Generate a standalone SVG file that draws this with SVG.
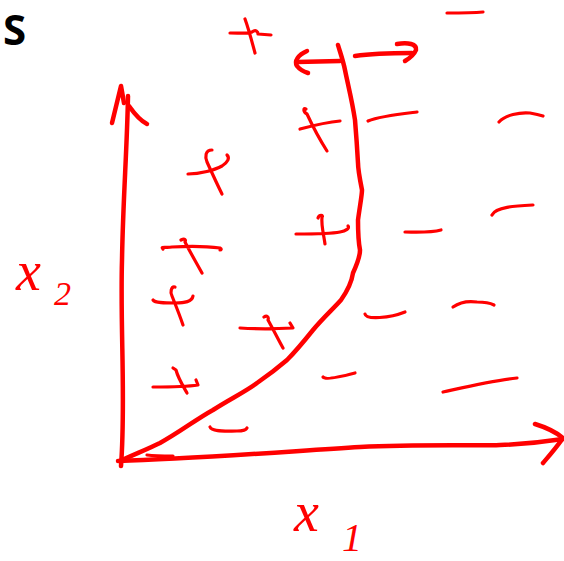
<svg xmlns="http://www.w3.org/2000/svg" width="564" height="561" viewBox="0 0 564 561">
<style>
.ink{fill:none;stroke:#ff0000;stroke-linecap:round;stroke-linejoin:round}
.thick{stroke-width:4.5}
.mark{stroke-width:3.2}
.lbl{fill:#ff0000;font-family:"Liberation Serif",serif;font-style:italic}
</style>
<rect width="564" height="561" fill="#ffffff"/>
<text x="3" y="45" font-family="Open Sans, sans-serif" font-weight="bold" font-size="42" fill="#000000">S</text>
<g id="axes" class="ink thick">
  <path d="M128,96 C127,150 123,200 122,260 C120,330 126,400 121,466"/>
  <path d="M112,123 L121,86 L124,103 M129,106 C136,116 141,121 147,124"/>
  <path d="M118,461 C190,459 280,452 360,447 C420,444 480,446 500,445 C530,444 550,441 563,439"/>
  <path d="M535,424 C548,428 557,433 563,438 C556,448 549,456 543,463"/>
</g>
<g id="boundary" class="ink thick">
  <path d="M120,461 C135,454 148,449 160,443 C180,432 195,420 213,410 C230,399 245,392 257,383 C270,374 280,366 287,360 C297,350 305,340 313,330 C323,318 333,309 341,300 C348,290 352,280 353,273 C358,262 360,256 360,250 C358,240 358,230 358,220 C360,205 362,195 362,190 C360,180 358,170 358,163 C357,145 356,132 355,120 C352,100 348,85 345,70 C343,60 340,52 338,45"/>
</g>
<g id="arrows-top" class="ink thick">
  <path d="M340,61 L297,62"/>
  <path d="M307,51 C298,55 294,61 297,66 C300,70 305,72 308,73"/>
  <path d="M355,56 C375,53 395,53 412,53"/>
  <path d="M397,44 C408,42 417,44 416,50 C414,55 410,58 405,61"/>
</g>
<g id="plus-markers" class="ink mark">
  <path d="M230,33 C240,33 248,34 252,32 C256,29 258,32 258,34 L271,35 M245,19 C249,30 252,42 255,53"/>
  <path d="M300,129 C315,125 328,122 340,121 M306,109 C303,107 303,112 307,114 C313,127 320,140 327,151"/>
  <path d="M188,174 C200,174 215,170 222,166 C228,162 230,158 227,155 M212,150 C205,150 205,157 207,162 C212,173 217,184 222,194"/>
  <path d="M296,234 C315,234 330,234 340,232 C346,231 350,228 348,226 M318,218 C319,214 324,215 322,217 C321,225 324,236 325,244"/>
  <path d="M163,249 C160,246 166,248 172,247 C190,246 205,246 220,248 C222,249 221,250 220,250 M181,240 C185,238 186,240 185,242 C190,252 196,262 202,273"/>
  <path d="M153,300 C155,303 165,303 175,303 C185,303 192,302 193,296 M175,287 C171,286 170,293 172,296 C176,306 180,316 183,325"/>
  <path d="M240,328 C255,329 275,329 293,328 L290,323 M264,317 C267,315 269,317 268,320 C273,329 278,339 283,348"/>
  <path d="M153,387 C168,387 185,387 198,385 L196,380 M173,368 L176,370 C178,378 183,386 187,393"/>
</g>
<g id="minus-markers" class="ink mark">
  <path d="M447,13 C460,13 472,13 483,12"/>
  <path d="M368,121 C380,116 400,114 417,112"/>
  <path d="M499,122 C505,115 520,112 530,113 C536,114 540,115 543,116"/>
  <path d="M492,215 C496,207 515,206 533,205"/>
  <path d="M405,232 C415,232 430,233 441,230"/>
  <path d="M365,314 C366,320 390,318 405,312"/>
  <path d="M453,307 C460,302 470,301 477,302 C485,302 490,303 494,305"/>
  <path d="M323,377 C325,380 340,377 355,373"/>
  <path d="M443,392 C470,386 495,380 517,378"/>
  <path d="M210,427 C212,432 225,431 237,431 C242,431 246,430 247,428"/>
  <path d="M147,455 C155,456 165,456 173,456"/>
</g>
<g id="labels">
  <text class="lbl" x="16" y="290" font-size="56">x</text>
  <text class="lbl" x="54" y="305" font-size="34">2</text>
  <text class="lbl" x="294" y="531" font-size="56">x</text>
  <text class="lbl" x="342" y="551" font-size="40">1</text>
</g>
</svg>
